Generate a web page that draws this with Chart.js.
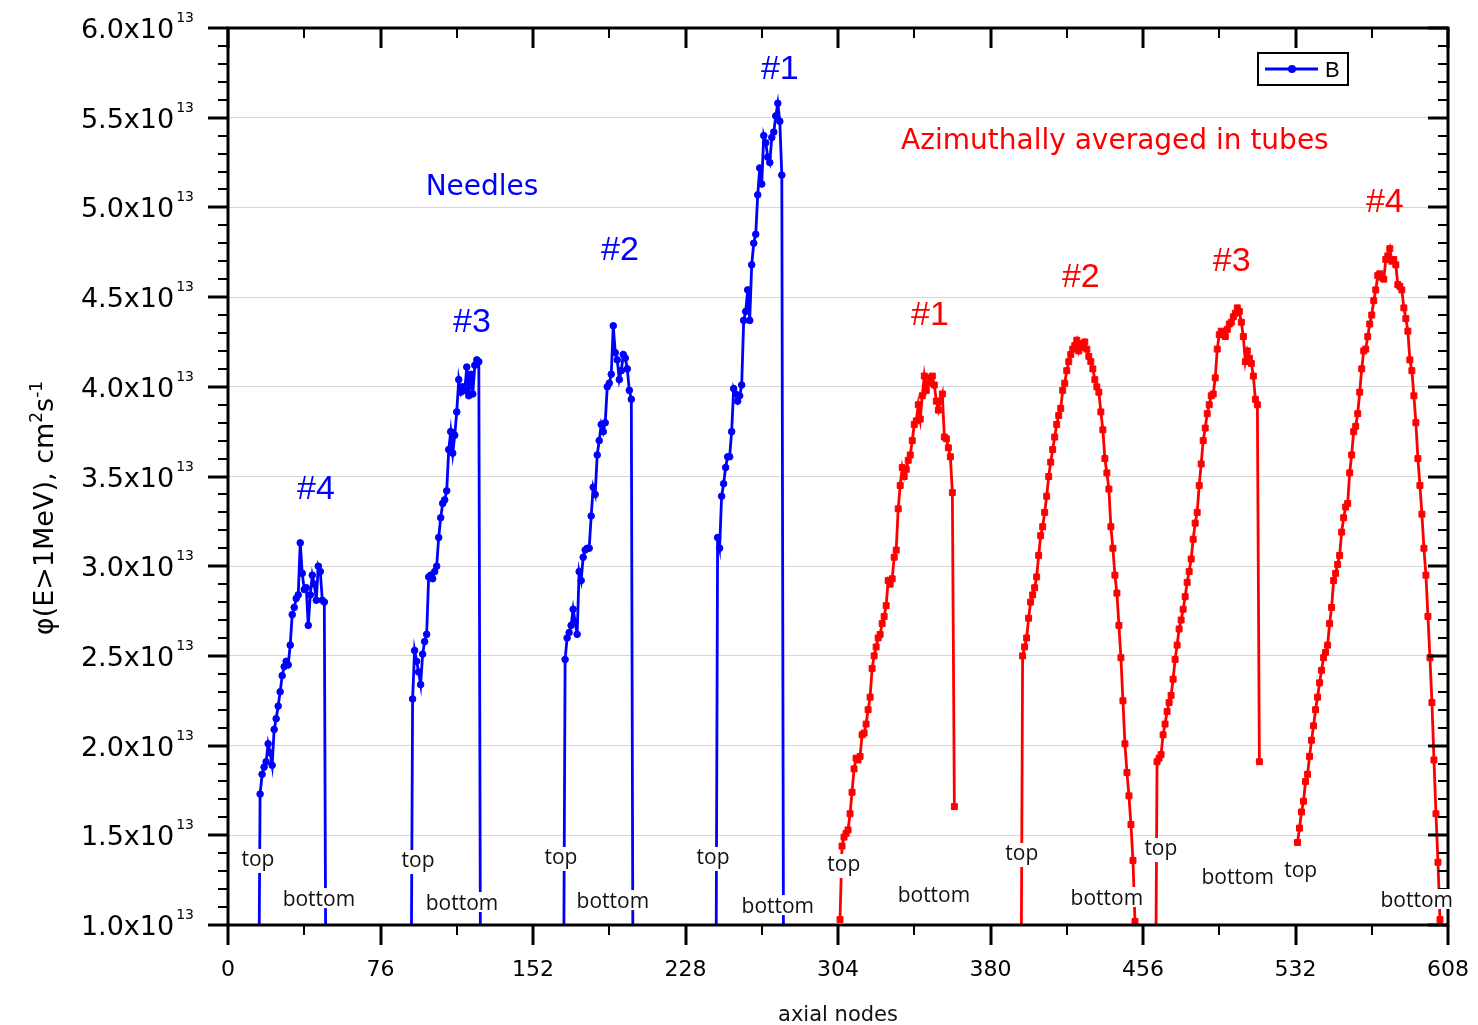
<!DOCTYPE html>
<html>
<head>
<meta charset="utf-8">
<script src="https://cdn.jsdelivr.net/npm/chart.js@4.4.1/dist/chart.umd.min.js"></script>
<style>
html,body{margin:0;padding:0;background:#fff;}
#wrap{width:1478px;height:1025px;}
</style>
</head>
<body>
<div id="wrap"><canvas id="c" width="1478" height="1025"></canvas></div>
<script>
// ---------- data (flux in units of 1e13 cm^-2 s^-1, x = axial node) ----------
const needle4Start = 15;
const needle4 = [0, 1.73, 1.84, 1.88, 1.91, 2.01, 1.96, 1.89, 2.09, 2.15, 2.22, 2.30, 2.39, 2.44, 2.47, 2.45, 2.56, 2.73, 2.77, 2.82, 2.84, 3.13, 2.96, 2.87, 2.88, 2.67, 2.84, 2.95, 2.90, 2.81, 3.00, 2.97, 2.81, 2.80, 0];
const needle3Start = 91;
const needle3 = [0, 2.26, 2.53, 2.47, 2.41, 2.34, 2.51, 2.58, 2.62, 2.94, 2.95, 2.93, 2.97, 3.00, 3.16, 3.27, 3.35, 3.37, 3.42, 3.65, 3.75, 3.63, 3.73, 3.86, 4.04, 3.97, 4.00, 3.98, 4.11, 3.95, 4.07, 3.96, 4.12, 4.15, 4.14, 0];
const needle2Start = 167;
const needle2 = [0, 2.48, 2.60, 2.63, 2.67, 2.76, 2.69, 2.62, 2.97, 2.92, 3.05, 3.09, 3.10, 3.10, 3.28, 3.44, 3.40, 3.62, 3.70, 3.79, 3.75, 3.80, 4.00, 4.02, 4.07, 4.34, 4.19, 4.15, 4.04, 4.09, 4.18, 4.16, 4.10, 3.98, 3.93, 0];
const needle1Start = 243;
const needle1 = [0, 3.16, 3.10, 3.39, 3.46, 3.55, 3.61, 3.61, 3.75, 3.99, 3.96, 3.92, 3.95, 4.01, 4.37, 4.42, 4.54, 4.37, 4.68, 4.80, 4.85, 5.07, 5.22, 5.13, 5.40, 5.36, 5.28, 5.25, 5.39, 5.42, 5.51, 5.58, 5.48, 5.18, 0];

const tube1Start = 305;
const tube1 = [1.03, 1.44, 1.49, 1.51, 1.53, 1.62, 1.74, 1.87, 1.93, 1.92, 1.94, 2.06, 2.07, 2.12, 2.20, 2.27, 2.43, 2.50, 2.55, 2.60, 2.62, 2.68, 2.72, 2.78, 2.92, 2.90, 2.93, 3.05, 3.09, 3.32, 3.45, 3.55, 3.50, 3.54, 3.59, 3.62, 3.70, 3.79, 3.81, 3.90, 3.82, 3.95, 4.06, 3.98, 4.02, 4.05, 4.06, 4.01, 3.92, 3.87, 3.92, 3.96, 3.72, 3.71, 3.66, 3.61, 3.41, 1.66];
const tube2Start = 395;
const tube2 = [0, 2.50, 2.55, 2.60, 2.71, 2.80, 2.84, 2.88, 2.94, 3.06, 3.17, 3.22, 3.30, 3.39, 3.50, 3.58, 3.65, 3.72, 3.79, 3.84, 3.88, 3.98, 4.02, 4.09, 4.14, 4.18, 4.21, 4.23, 4.26, 4.20, 4.24, 4.22, 4.25, 4.21, 4.17, 4.14, 4.10, 4.04, 4.00, 3.97, 3.86, 3.76, 3.60, 3.52, 3.43, 3.22, 3.10, 2.95, 2.85, 2.67, 2.49, 2.25, 2.01, 1.85, 1.72, 1.56, 1.36, 1.02, 0];
const tube3Start = 462;
const tube3 = [0, 1.91, 1.93, 1.95, 2.06, 2.12, 2.19, 2.24, 2.28, 2.37, 2.48, 2.56, 2.65, 2.70, 2.76, 2.83, 2.91, 2.97, 3.04, 3.15, 3.24, 3.30, 3.45, 3.57, 3.70, 3.77, 3.85, 3.90, 3.95, 3.96, 4.05, 4.21, 4.29, 4.31, 4.30, 4.28, 4.32, 4.35, 4.36, 4.39, 4.41, 4.44, 4.42, 4.36, 4.28, 4.14, 4.20, 4.16, 4.13, 4.06, 3.93, 3.90, 1.91];
const tube4Start = 533;
const tube4 = [1.46, 1.54, 1.63, 1.69, 1.80, 1.84, 1.94, 2.03, 2.11, 2.20, 2.27, 2.35, 2.42, 2.49, 2.52, 2.56, 2.68, 2.77, 2.92, 2.96, 3.01, 3.06, 3.19, 3.27, 3.33, 3.35, 3.52, 3.62, 3.75, 3.78, 3.85, 3.97, 4.10, 4.20, 4.21, 4.28, 4.35, 4.40, 4.48, 4.54, 4.62, 4.63, 4.61, 4.60, 4.71, 4.73, 4.77, 4.70, 4.71, 4.68, 4.57, 4.56, 4.54, 4.44, 4.38, 4.31, 4.15, 4.09, 3.95, 3.80, 3.60, 3.45, 3.29, 3.10, 2.95, 2.72, 2.49, 2.24, 1.92, 1.62, 1.35, 1.03, 0];

// ---------- axis settings ----------
const X_MIN = 0, X_MAX = 608, X_STEP = 76, X_MINOR = 38;
const Y_MIN = 1, Y_MAX = 6, Y_STEP = 0.5, Y_MINOR = 0.1;
const xTitle = 'axial nodes';
const legendLabel = 'B';

// ---------- annotation texts and anchors (data coordinates) ----------
const blueTexts = ['Needles', '#4', '#3', '#2', '#1'];
const blueTextX = [126.6, 43.8, 121.6, 195.3, 275.0];
const blueTextY = [5.13, 3.44, 4.37, 4.77, 5.78];
const redTexts = ['Azimuthally averaged in tubes', '#1', '#2', '#3', '#4'];
const redTextX = [442.0, 349.8, 425.0, 500.2, 576.5];
const redTextY = [5.37, 4.41, 4.62, 4.71, 5.04];
const endTexts = ['top','bottom','top','bottom','top','bottom','top','bottom','top','bottom','top','bottom','top','bottom','top','bottom'];
const endTextX = [14.9, 45.3, 94.7, 116.6, 165.9, 191.8, 241.7, 274.0, 306.9, 351.8, 395.6, 438.0, 464.9, 503.2, 534.6, 592.4];
const endTextY = [1.357, 1.150, 1.351, 1.128, 1.368, 1.139, 1.368, 1.111, 1.329, 1.173, 1.390, 1.156, 1.418, 1.273, 1.295, 1.145];

const BLUE = '#0000ff', RED = '#ff0000';

function seg(start, vals) { return vals.map((v, i) => ({ x: start + i, y: v })); }

function blueSet(start, vals) {
  return { data: seg(start, vals), borderColor: BLUE, backgroundColor: BLUE, borderWidth: 2.8,
    pointStyle: 'circle', pointRadius: 3.3, pointBorderWidth: 1, tension: 0 };
}
function redSet(start, vals) {
  return { data: seg(start, vals), borderColor: RED, backgroundColor: RED, borderWidth: 2.8,
    pointStyle: 'rect', pointRadius: 4.2, pointBorderWidth: 1, tension: 0 };
}

function drawParts(ctx, parts, x, y, align) {
  // parts: [{t, size, rise, gap}] ; y is baseline
  let total = 0;
  parts.forEach(p => { ctx.font = p.size + 'px "DejaVu Sans"'; p.w = ctx.measureText(p.t).width + (p.gap || 0); total += p.w; });
  let cx = align === 'right' ? x - total : (align === 'center' ? x - total / 2 : x);
  ctx.textAlign = 'left'; ctx.textBaseline = 'alphabetic';
  parts.forEach(p => { ctx.font = p.size + 'px "DejaVu Sans"'; ctx.fillText(p.t, cx + (p.gap || 0), y - (p.rise || 0)); cx += p.w; });
}

function centeredText(ctx, text, px, py, font, color, bg) {
  ctx.font = font; ctx.textAlign = 'center'; ctx.textBaseline = 'alphabetic';
  const m = ctx.measureText(text);
  const asc = m.actualBoundingBoxAscent, desc = m.actualBoundingBoxDescent;
  const base = py + (asc - desc) / 2;
  if (bg) {
    ctx.fillStyle = bg;
    ctx.fillRect(px - m.width / 2 - 2, base - asc - 2, m.width + 4, asc + desc + 4);
  }
  ctx.fillStyle = color;
  ctx.fillText(text, px, base);
}

const deco = {
  id: 'deco',
  afterDatasetsDraw(chart) {
    const ctx = chart.ctx, a = chart.chartArea, xs = chart.scales.x, ys = chart.scales.y;
    ctx.save();
    ctx.strokeStyle = '#000'; ctx.lineCap = 'butt';
    const line = (x1, y1, x2, y2) => { ctx.beginPath(); ctx.moveTo(x1, y1); ctx.lineTo(x2, y2); ctx.stroke(); };
    // frame
    ctx.lineWidth = 3;
    ctx.strokeRect(a.left, a.top, a.right - a.left, a.bottom - a.top);
    // y ticks (left outward, right inward)
    const nY = Math.round((Y_MAX - Y_MIN) / Y_MINOR);
    for (let i = 0; i <= nY; i++) {
      const v = Y_MIN + i * Y_MINOR;
      const py = Math.round(ys.getPixelForValue(v));
      const major = (i % Math.round(Y_STEP / Y_MINOR) === 0);
      const L = major ? 20 : 10;
      ctx.lineWidth = major ? 3 : 2;
      line(a.left - L, py, a.left, py);
      line(a.right - L, py, a.right, py);
    }
    // x ticks (bottom outward, top inward)
    const nX = Math.round((X_MAX - X_MIN) / X_MINOR);
    for (let i = 0; i <= nX; i++) {
      const v = X_MIN + i * X_MINOR;
      const px = Math.round(xs.getPixelForValue(v));
      const major = (i % Math.round(X_STEP / X_MINOR) === 0);
      const L = major ? 20 : 10;
      ctx.lineWidth = major ? 3 : 2;
      line(px, a.bottom, px, a.bottom + L);
      line(px, a.top, px, a.top + L);
    }
    // y tick labels
    ctx.fillStyle = '#000';
    ys.ticks.forEach(t => {
      const py = ys.getPixelForValue(t.value);
      drawParts(ctx, [{ t: t.value.toFixed(1) + 'x10', size: 27 }, { t: '13', size: 14, rise: 16, gap: 2 }], 194, py + 10, 'right');
    });
    // x tick labels
    ctx.font = '22px "DejaVu Sans"'; ctx.textAlign = 'center'; ctx.textBaseline = 'alphabetic';
    xs.ticks.forEach(t => {
      ctx.fillText(String(t.value), xs.getPixelForValue(t.value), 976);
    });
    // x title
    ctx.font = '21px "DejaVu Sans"'; ctx.fillStyle = '#111';
    ctx.fillText(xTitle, (a.left + a.right) / 2, 1021);
    // y title (rotated)
    ctx.save();
    ctx.translate(53, 508);
    ctx.rotate(-Math.PI / 2);
    ctx.fillStyle = '#000';
    drawParts(ctx, [{ t: 'φ(E>1MeV), cm', size: 27 }, { t: '2', size: 17, rise: 11 }, { t: 's', size: 27 }, { t: '-1', size: 17, rise: 11 }], 0, 0, 'center');
    ctx.restore();

    // end labels (top / bottom) with white background
    endTexts.forEach((t, i) => {
      centeredText(ctx, t, xs.getPixelForValue(endTextX[i]), ys.getPixelForValue(endTextY[i]), '21px "Open Sans"', '#111', '#ffffff');
    });
    // blue & red annotations
    blueTexts.forEach((t, i) => {
      const f = t.startsWith('#') ? '34px "Liberation Sans"' : '28px "DejaVu Sans"';
      centeredText(ctx, t, xs.getPixelForValue(blueTextX[i]), ys.getPixelForValue(blueTextY[i]), f, BLUE, null);
    });
    redTexts.forEach((t, i) => {
      const f = t.startsWith('#') ? '34px "Liberation Sans"' : '28px "DejaVu Sans"';
      centeredText(ctx, t, xs.getPixelForValue(redTextX[i]), ys.getPixelForValue(redTextY[i]), f, RED, null);
    });

    // legend
    const lx = 1258, ly = 53, lw = 90, lh = 32;
    ctx.fillStyle = '#fff'; ctx.fillRect(lx, ly, lw, lh);
    ctx.strokeStyle = '#000'; ctx.lineWidth = 2; ctx.strokeRect(lx, ly, lw, lh);
    ctx.strokeStyle = BLUE; ctx.lineWidth = 2.8;
    line(lx + 7, ly + 16, lx + 60, ly + 16);
    ctx.fillStyle = BLUE; ctx.beginPath(); ctx.arc(lx + 34, ly + 16, 4, 0, Math.PI * 2); ctx.fill();
    ctx.fillStyle = '#000'; ctx.font = '22px "Liberation Sans"'; ctx.textAlign = 'left'; ctx.textBaseline = 'alphabetic';
    ctx.fillText(legendLabel, lx + 67, ly + 24);
    ctx.restore();
  }
};

new Chart(document.getElementById('c'), {
  type: 'line',
  data: {
    datasets: [
      blueSet(needle4Start, needle4), blueSet(needle3Start, needle3),
      blueSet(needle2Start, needle2), blueSet(needle1Start, needle1),
      redSet(tube1Start, tube1), redSet(tube2Start, tube2),
      redSet(tube3Start, tube3), redSet(tube4Start, tube4)
    ]
  },
  options: {
    responsive: false, animation: false, devicePixelRatio: 1,
    layout: { padding: { top: 28, right: 30, left: 0, bottom: 0 } },
    plugins: { legend: { display: false }, tooltip: { enabled: false } },
    scales: {
      x: { type: 'linear', min: X_MIN, max: X_MAX,
           ticks: { stepSize: X_STEP, display: false },
           grid: { display: false }, border: { display: false },
           afterFit(s) { s.height = 100; } },
      y: { type: 'linear', min: Y_MIN, max: Y_MAX,
           ticks: { stepSize: Y_STEP, display: false },
           grid: { color: '#d6d6d6', lineWidth: 1, drawTicks: false }, border: { display: false },
           afterFit(s) { s.width = 228; } }
    }
  },
  plugins: [deco]
});
</script>
</body>
</html>
